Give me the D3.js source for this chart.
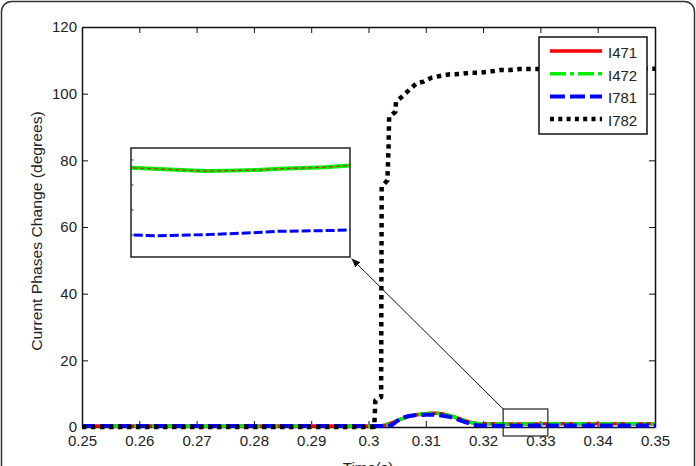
<!DOCTYPE html>
<html><head><meta charset="utf-8">
<script src="https://cdn.jsdelivr.net/npm/d3@7"></script>
<style>
body{margin:0;background:#fff;}
svg{display:block;}
text{font-family:"Liberation Sans",Arial,sans-serif;fill:#222;}
</style></head>
<body>
<svg id="c" width="696" height="466"></svg>
<script>
// ---- data ----
const seriesNames = ["I471","I472","I781","I782"];
const seriesColors = ["#ff0000","#00ee00","#0000ff","#000000"];
const time = [0.25,0.26,0.27,0.28,0.29,0.30,0.302,0.303,0.304,0.305,0.306,0.307,0.308,0.309,0.310,0.311,0.312,0.313,0.314,0.315,0.316,0.317,0.318,0.319,0.320,0.322,0.3235,0.3245,0.3255,0.3262,0.3270,0.3280,0.3288,0.3296,0.3304,0.3313,0.335,0.34,0.345,0.35];
const i471 = [0.3,0.3,0.3,0.3,0.3,0.3,0.3,0.6,1.2,1.9,2.6,3.1,3.5,3.8,4.0,4.1,4.1,3.9,3.5,3.0,2.4,1.8,1.3,1.05,0.98,0.95,0.938,0.928,0.918,0.912,0.915,0.92,0.93,0.936,0.942,0.957,0.96,0.96,0.96,0.96];
const i472 = [0.3,0.3,0.3,0.3,0.3,0.3,0.3,0.6,1.2,1.9,2.6,3.1,3.5,3.8,4.0,4.1,4.1,3.9,3.5,3.0,2.4,1.8,1.3,1.05,0.98,0.95,0.938,0.928,0.918,0.912,0.915,0.92,0.93,0.936,0.942,0.957,0.96,0.96,0.96,0.96];
const i781 = [0.3,0.3,0.3,0.3,0.3,0.3,0.3,0.3,0.5,1.8,2.8,3.3,3.5,3.6,3.7,3.7,3.6,3.4,3.1,2.6,2.0,1.4,0.8,0.5,0.42,0.40,0.40,0.394,0.40,0.403,0.41,0.42,0.43,0.432,0.435,0.44,0.44,0.44,0.44,0.44];
const time782 = [0.25,0.3010,0.3012,0.3022,0.3023,0.3033,0.3035,0.3036,0.3047,0.3048,0.3060,0.3072,0.3084,0.3096,0.3110,0.3125,0.3142,0.3160,0.3177,0.3195,0.3212,0.3230,0.3247,0.3264,0.3280,0.335,0.35];
const i782 = [0,0,8,9,72,74,84,93,94.6,97.6,99.3,101.3,103.1,103.6,104.8,105.3,105.8,105.9,106.3,106.3,106.6,107.1,107.1,107.4,107.4,107.5,107.5];
const xTicks = [0.25,0.26,0.27,0.28,0.29,0.30,0.31,0.32,0.33,0.34,0.35];
const xTickLabels = ["0.25","0.26","0.27","0.28","0.29","0.3","0.31","0.32","0.33","0.34","0.35"];
const yTicks = [0,20,40,60,80,100,120];
const yTickLabels = ["0","20","40","60","80","100","120"];
const zoomTime = [0.3235,0.3313];
const zoomValue = [-2.7,5.4];
const insetValue = [0.224,1.096];
const insetTicks = [0.4,0.6,0.8,1.0];

// ---- drawing ----
const svg = d3.select("#c");
const FS = 15;
// outer frame
svg.append("rect").attr("x",1.5).attr("y",1.5).attr("width",693).attr("height",500)
  .attr("rx",10).attr("fill","none").attr("stroke","#333").attr("stroke-width",1.5);

const x = d3.scaleLinear().domain([0.25,0.35]).range([82,655]);
const y = d3.scaleLinear().domain([0,120]).range([427,27]);

function styleAxis(g){
  g.selectAll("path.domain").attr("stroke","#111").attr("stroke-width",1.5);
  g.selectAll(".tick line").attr("stroke","#111").attr("stroke-width",1);
  g.selectAll("text").attr("font-size",FS).attr("fill","#222").attr("font-family","Liberation Sans, Arial, sans-serif");
}
svg.append("g").attr("transform","translate(0,427)")
  .call(d3.axisBottom(x).tickValues(xTicks).tickFormat((d,i)=>xTickLabels[i]).tickSizeInner(-6).tickSizeOuter(0).tickPadding(8))
  .call(styleAxis);
svg.append("g").attr("transform","translate(0,27)")
  .call(d3.axisTop(x).tickValues(xTicks).tickFormat("").tickSizeInner(-6).tickSizeOuter(0))
  .call(styleAxis);
svg.append("g").attr("transform","translate(82,0)")
  .call(d3.axisLeft(y).tickValues(yTicks).tickFormat((d,i)=>yTickLabels[i]).tickSizeInner(-6).tickSizeOuter(0).tickPadding(5))
  .call(styleAxis);
svg.append("g").attr("transform","translate(655,0)")
  .call(d3.axisRight(y).tickValues(yTicks).tickFormat("").tickSizeInner(-6).tickSizeOuter(0))
  .call(styleAxis);

// axis labels
svg.append("text").attr("transform","translate(42,231) rotate(-90) scale(1.12,1)")
  .attr("text-anchor","middle").attr("font-size",14).text("Current  Phases  Change  (degrees)");
svg.append("text").attr("x",368).attr("y",473).attr("text-anchor","middle").attr("font-size",FS).text("Time(s)");

const styles = [
  {w:3.5,dash:null},
  {w:3.5,dash:"14,4,4,4"},
  {w:4,dash:"13,5"},
  {w:4.5,dash:"4.5,4.5"}
];
const data = [
  time.map((t,i)=>[t,i471[i]]),
  time.map((t,i)=>[t,i472[i]]),
  time.map((t,i)=>[t,i781[i]]),
  time782.map((t,i)=>[t,i782[i]])
];
const line = d3.line().x(d=>x(d[0])).y(d=>y(d[1]));
data.forEach((d,k)=>{
  svg.append("path").datum(d).attr("d",line).attr("fill","none")
    .attr("stroke",seriesColors[k]).attr("stroke-width",styles[k].w)
    .attr("stroke-dasharray",styles[k].dash)
    .attr("stroke-linejoin","round");
});

// zoom region rectangle
const zx0 = x(zoomTime[0]), zx1 = x(zoomTime[1]), zy0 = y(zoomValue[1]), zy1 = y(zoomValue[0]);
svg.append("rect").attr("x",zx0).attr("y",zy0).attr("width",zx1-zx0).attr("height",zy1-zy0)
  .attr("fill","none").attr("stroke","#222").attr("stroke-width",1.2);

// inset
const ix = d3.scaleLinear().domain(zoomTime).range([131,350]);
const iy = d3.scaleLinear().domain(insetValue).range([257,148]);
svg.append("rect").attr("x",131).attr("y",148).attr("width",219).attr("height",109).attr("fill","#fff");
svg.append("clipPath").attr("id","ic").append("rect").attr("x",131).attr("y",148).attr("width",219).attr("height",109);
const iline = d3.line().x(d=>ix(d[0])).y(d=>iy(d[1]));
const ig = svg.append("g").attr("clip-path","url(#ic)");
ig.append("path").datum(data[1]).attr("d",iline).attr("fill","none").attr("stroke",seriesColors[1]).attr("stroke-width",4);
ig.append("path").datum(data[0]).attr("d",iline).attr("fill","none").attr("stroke",seriesColors[0]).attr("stroke-width",1.3).attr("stroke-dasharray","4,3").attr("opacity",0.8);
ig.append("path").datum(data[2]).attr("d",iline).attr("fill","none").attr("stroke",seriesColors[2]).attr("stroke-width",3).attr("stroke-dasharray","9,3");
insetTicks.forEach(v=>{
  svg.append("line").attr("x1",131).attr("x2",133.5).attr("y1",iy(v)).attr("y2",iy(v)).attr("stroke","#333").attr("stroke-width",1);
});
svg.append("rect").attr("x",131).attr("y",148).attr("width",219).attr("height",109)
  .attr("fill","none").attr("stroke","#222").attr("stroke-width",1.5);

// arrow
svg.append("defs").append("marker").attr("id","ah").attr("viewBox","0 0 10 10")
  .attr("refX",10).attr("refY",5).attr("markerWidth",9).attr("markerHeight",9)
  .attr("markerUnits","userSpaceOnUse").attr("orient","auto")
  .append("path").attr("d","M0,1 L10,5 L0,9 z").attr("fill","#111");
svg.append("line").attr("x1",zx0).attr("y1",zy0).attr("x2",351.5).attr("y2",258.5)
  .attr("stroke","#111").attr("stroke-width",1).attr("marker-end","url(#ah)");

// legend
const lg = svg.append("g");
lg.append("rect").attr("x",539).attr("y",37).attr("width",108).attr("height",97)
  .attr("fill","#fff").attr("stroke","#111").attr("stroke-width",1.5);
const ly = [51,73.7,96.4,119];
seriesNames.forEach((n,k)=>{
  lg.append("line").attr("x1",550).attr("x2",602).attr("y1",ly[k]).attr("y2",ly[k])
    .attr("stroke",seriesColors[k]).attr("stroke-width",styles[k].w)
    .attr("stroke-dasharray",k===1?"16,4,4,4":k===2?"15,5":k===3?"4,4.3":null);
  lg.append("text").attr("x",608).attr("y",ly[k]+7).attr("font-size",FS).text(n);
});
</script>
</body></html>
